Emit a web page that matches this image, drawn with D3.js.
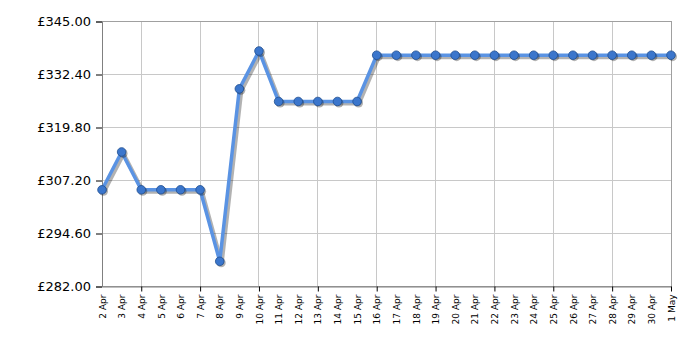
<!DOCTYPE html>
<html><head><meta charset="utf-8">
<script src="https://cdn.jsdelivr.net/npm/d3@7"></script>
<style>body{margin:0;background:#fff}svg{display:block}</style>
</head><body>
<svg id="c" width="700" height="350"></svg>
<script>
const dates = ["2 Apr","3 Apr","4 Apr","5 Apr","6 Apr","7 Apr","8 Apr","9 Apr","10 Apr","11 Apr","12 Apr","13 Apr","14 Apr","15 Apr","16 Apr","17 Apr","18 Apr","19 Apr","20 Apr","21 Apr","22 Apr","23 Apr","24 Apr","25 Apr","26 Apr","27 Apr","28 Apr","29 Apr","30 Apr","1 May"];
const prices = [304.99,313.99,304.99,304.99,304.99,304.99,287.99,328.99,337.99,325.99,325.99,325.99,325.99,325.99,336.99,336.99,336.99,336.99,336.99,336.99,336.99,336.99,336.99,336.99,336.99,336.99,336.99,336.99,336.99,336.99];
const yTicks = [282.00,294.60,307.20,319.80,332.40,345.00];
const majorDates = ["4 Apr","7 Apr","10 Apr","13 Apr","16 Apr","19 Apr","22 Apr","25 Apr","28 Apr","1 May"];

const svg = d3.select("#c");
const L=102, R=671, T=21.5, B=286.5;
const x = d3.scalePoint().domain(dates).range([L,R]);
const y = d3.scaleLinear().domain([282,345]).range([B,T]);

// grid
svg.append("g").selectAll("line").data(yTicks).join("line")
  .attr("x1",L).attr("x2",R).attr("y1",d=>y(d)).attr("y2",d=>y(d))
  .attr("stroke","#c8c8c8").attr("stroke-width",1).attr("shape-rendering","crispEdges");
svg.append("g").selectAll("line").data(majorDates).join("line")
  .attr("x1",d=>x(d)).attr("x2",d=>x(d)).attr("y1",T).attr("y2",B)
  .attr("stroke","#c8c8c8").attr("stroke-width",1).attr("shape-rendering","crispEdges");
// border
svg.append("rect").attr("x",L).attr("y",T).attr("width",R-L).attr("height",B-T)
  .attr("fill","none").attr("stroke","#a0a0a0").attr("shape-rendering","crispEdges");

// y axis
const ya = svg.append("g").attr("transform",`translate(${L},0)`)
  .call(d3.axisLeft(y).tickValues(yTicks).tickSize(6).tickPadding(5).tickFormat(d=>"£"+d.toFixed(2)));
ya.select(".domain").attr("stroke","#808080");
ya.selectAll(".tick line").attr("stroke","#000");
ya.selectAll("text").attr("font-family","Verdana, 'DejaVu Sans', sans-serif").attr("font-size","13px").attr("fill","#000");

// x axis
const xa = svg.append("g").attr("transform",`translate(0,${B})`)
  .call(d3.axisBottom(x).tickSize(0).tickPadding(0));
xa.select(".domain").attr("stroke","#808080");
xa.selectAll(".tick").each(function(d){
  if(majorDates.includes(d)) d3.select(this).select("line").attr("y2",5).attr("stroke","#000");
});
xa.selectAll("text").attr("font-family","Verdana, 'DejaVu Sans', sans-serif").attr("font-size","9px").attr("fill","#000")
  .attr("transform","rotate(-90)").attr("text-anchor","end").attr("x",-8).attr("y",0).attr("dy","0.35em");

// shadow
const line = d3.line().x((d,i)=>x(dates[i])).y(d=>y(d));
svg.append("path").datum(prices).attr("d",line).attr("fill","none")
  .attr("stroke","#000").attr("stroke-opacity",0.3).attr("stroke-width",4)
  .attr("transform","translate(2,2)").attr("stroke-linejoin","round");
svg.append("path").datum(prices).attr("d",line).attr("fill","none")
  .attr("stroke","#5a93e3").attr("stroke-width",3.5).attr("stroke-linejoin","round");
svg.append("g").selectAll("circle").data(prices).join("circle")
  .attr("cx",(d,i)=>x(dates[i])+1.5).attr("cy",d=>y(d)+1.5).attr("r",4.5)
  .attr("fill","#000").attr("opacity",0.3);
svg.append("g").selectAll("circle").data(prices).join("circle")
  .attr("cx",(d,i)=>x(dates[i])).attr("cy",d=>y(d)).attr("r",4.3)
  .attr("fill","#3b76cc").attr("stroke","#1f4e8f").attr("stroke-width",0.8);
</script>
</body></html>
